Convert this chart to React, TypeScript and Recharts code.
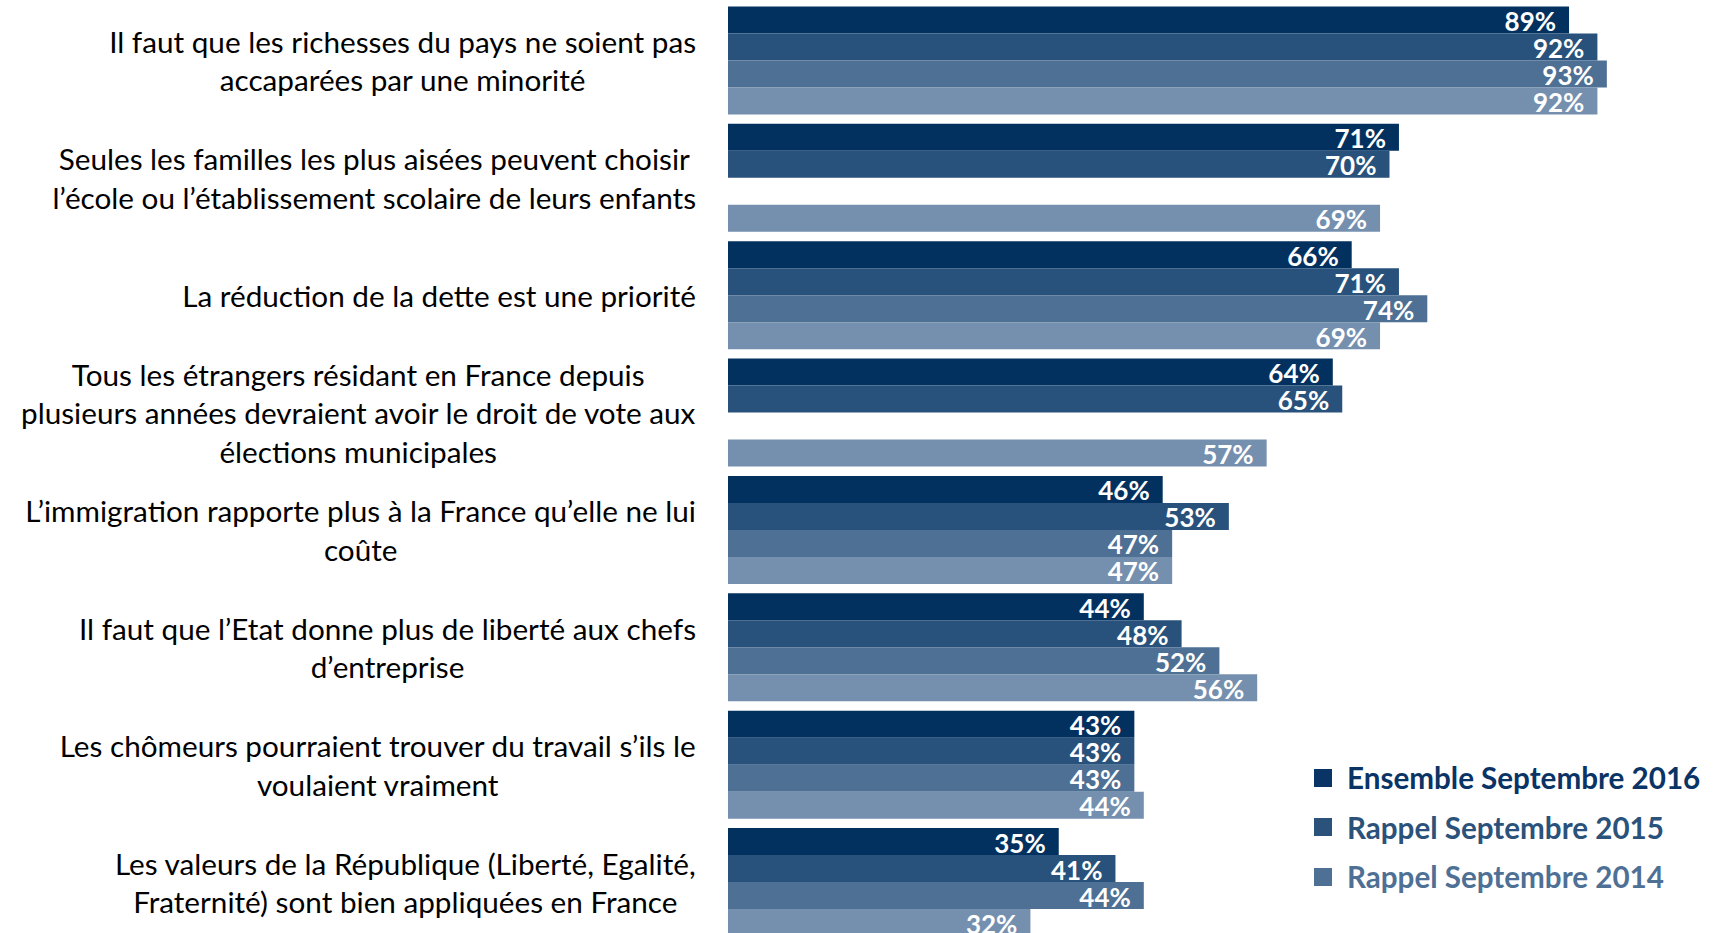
import React from 'react';
import { BarChart, Bar, XAxis, YAxis, LabelList } from 'recharts';

// Survey statements (line breaks as in the original slide)
const categories = [
  'Il faut que les richesses du pays ne soient pas\naccaparées par une minorité',
  'Seules les familles les plus aisées peuvent choisir\nl’école ou l’établissement scolaire de leurs enfants',
  'La réduction de la dette est une priorité',
  'Tous les étrangers résidant en France depuis\nplusieurs années devraient avoir le droit de vote aux\nélections municipales',
  'L’immigration rapporte plus à la France qu’elle ne lui\ncoûte',
  'Il faut que l’Etat donne plus de liberté aux chefs\nd’entreprise',
  'Les chômeurs pourraient trouver du travail s’ils le\nvoulaient vraiment',
  'Les valeurs de la République (Liberté, Egalité,\nFraternité) sont bien appliquées en France',
];

const sept2016 = [89, 71, 66, 64, 46, 44, 43, 35];
const sept2015 = [92, 70, 71, 65, 53, 48, 43, 41];
const sept2014 = [93, null, 74, null, 47, 52, 43, 44];
const sept2013 = [92, 69, 69, 57, 47, 56, 44, 32];

const seriesNames = [
  'Ensemble Septembre 2016',
  'Rappel Septembre 2015',
  'Rappel Septembre 2014',
  'Rappel Septembre 2013',
];
const COLORS = ['#03315f', '#28527b', '#4e7095', '#7590ae'];
const LEGEND_COLORS = ['#0a3366', '#2b527a', '#4f7095'];

const data = categories.map((name, i) => ({
  name,
  s2016: sept2016[i],
  s2015: sept2015[i],
  s2014: sept2014[i],
  s2013: sept2013[i],
}));
const KEYS = ['s2016', 's2015', 's2014', 's2013'];

const LABEL_FONT = '29.7px Lato';
const LABEL_RIGHT = 696;
const LINE_HEIGHT = 38.4;

let ctx: CanvasRenderingContext2D | null = null;
const measure = (s: string) => {
  if (!ctx) ctx = document.createElement('canvas').getContext('2d');
  if (!ctx) return s.length * 13;
  ctx.font = LABEL_FONT;
  return ctx.measureText(s).width;
};

const CategoryTick = (props: any) => {
  const { y, payload } = props;
  const lines: string[] = String(payload.value).split('\n');
  const maxW = Math.max(...lines.map(measure));
  const cx = LABEL_RIGHT - maxW / 2;
  const y0 = y - ((lines.length - 1) * LINE_HEIGHT) / 2;
  return (
    <text x={cx} y={y0} textAnchor="middle" fill="#000" style={{ font: LABEL_FONT }}>
      {lines.map((l, i) => (
        <tspan key={i} x={cx} y={y0 + i * LINE_HEIGHT} dominantBaseline="central">
          {l}
        </tspan>
      ))}
    </text>
  );
};

const ValueLabel = (props: any) => {
  const { x, y, width, height, value } = props;
  if (value == null) return null;
  return (
    <text
      x={x + width - 13}
      y={y + height / 2 + 1}
      textAnchor="end"
      dominantBaseline="central"
      fill="#fff"
      style={{ font: 'bold 26px Lato' }}
    >
      {value}%
    </text>
  );
};

export default function App() {
  return (
    <div style={{ position: 'absolute', left: 0, top: 0, width: 1719, height: 933, overflow: 'hidden', background: '#fff' }}>
      <BarChart
        width={1719}
        height={941}
        data={data}
        layout="vertical"
        margin={{ top: 2, right: 46, bottom: 0, left: 0 }}
        barCategoryGap={4.4}
        barGap={0}
      >
        <XAxis type="number" domain={[0, 100]} hide />
        <YAxis
          type="category"
          dataKey="name"
          width={728}
          axisLine={false}
          tickLine={false}
          tick={<CategoryTick />}
          interval={0}
        />
        {KEYS.map((k, i) => (
          <Bar key={k} dataKey={k} name={seriesNames[i]} fill={COLORS[i]} isAnimationActive={false}>
            <LabelList dataKey={k} content={<ValueLabel />} />
          </Bar>
        ))}
      </BarChart>
      {/* legend: only the three most recent waves are listed on the slide */}
      <div style={{ position: 'absolute', left: 1314, top: 753 }}>
        {LEGEND_COLORS.map((c, i) => (
          <div key={i} style={{ display: 'flex', alignItems: 'center', height: 49.5 }}>
            <span style={{ width: 18, height: 18, background: c, display: 'inline-block', marginRight: 15 }} />
            <span style={{ font: 'bold 29.6px Lato', color: c, whiteSpace: 'nowrap' }}>{seriesNames[i]}</span>
          </div>
        ))}
      </div>
    </div>
  );
}
